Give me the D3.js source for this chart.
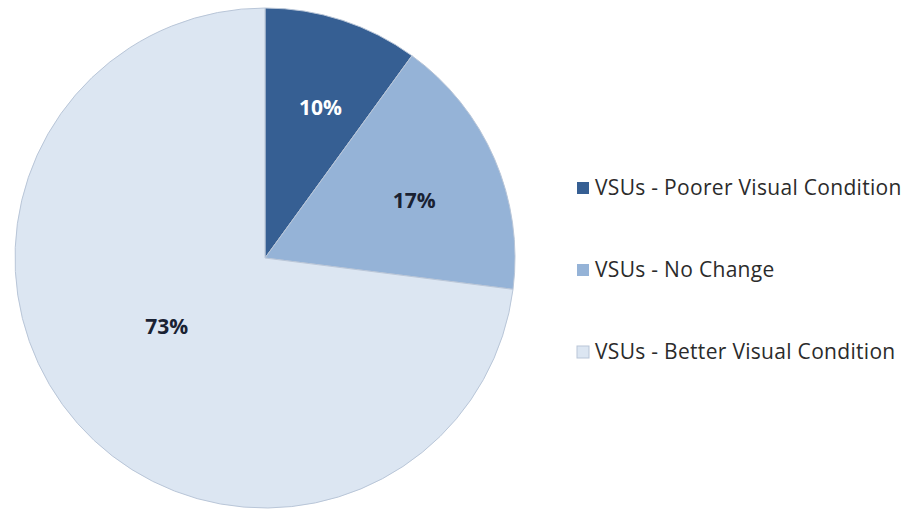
<!DOCTYPE html>
<html>
<head>
<meta charset="utf-8">
<script src="https://cdn.jsdelivr.net/npm/d3@7"></script>
<style>
    html, body { margin: 0; padding: 0; background: #fff; }
</style>
</head>
<body>
<div id="chart"></div>
<script>
const categories = [
    "VSUs - Poorer Visual Condition",
    "VSUs - No Change",
    "VSUs - Better Visual Condition"
];
const shares = [10, 17, 73];
const sliceColors = ["#365f93", "#95b3d7", "#dce6f2"];
const labelColors = ["#ffffff", "#1a2233", "#1a2233"];

function drawPie() {

    const width = 922;
    const height = 510;
    const cx = 265;
    const cy = 258;
    const radius = 250;

    const dataArray = categories.map((name, i) => ({ name: name, value: shares[i], i: i }));

    const svg = d3.select("#chart")
        .append("svg")
        .attr("width", width)
        .attr("height", height);

    const g = svg.append("g")
        .attr("transform", `translate(${cx},${cy})`);

    const pie = d3.pie()
        .sort(null)
        .value(d => d.value);

    const dataReady = pie(dataArray);

    const arc = d3.arc()
        .innerRadius(0)
        .outerRadius(radius);

    g.selectAll("path")
        .data(dataReady)
        .enter()
        .append("path")
        .attr("d", arc)
        .attr("fill", d => sliceColors[d.data.i])
        .attr("stroke", "#b9c6d8")
        .style("stroke-width", "1px");

    // label placement like Excel's best fit: the big slice label sits closer in
    const isBig = d => d.endAngle - d.startAngle > Math.PI;
    const labelRadius = d => (isBig(d) ? 120 : 160);
    const labelShift = d => (isBig(d) ? 0.11 : 0.04);

    g.selectAll("text")
        .data(dataReady)
        .enter()
        .append("text")
        .text(d => `${d.data.value}%`)
        .attr("transform", d => {
            const a = (d.startAngle + d.endAngle) / 2 + labelShift(d);
            const r = labelRadius(d);
            return `translate(${r * Math.sin(a)}, ${-r * Math.cos(a)})`;
        })
        .attr("dy", "0.35em")
        .style("text-anchor", "middle")
        .style("font-size", "21px")
        .style("font-weight", "bold")
        .style("fill", d => labelColors[d.data.i])
        .style("font-family", "'Open Sans', Arial, sans-serif");

    const legendY = d3.scalePoint()
        .domain(categories)
        .range([188, 352]);

    const legend = svg.append("g");

    const item = legend.selectAll("g")
        .data(dataArray)
        .enter()
        .append("g")
        .attr("transform", d => `translate(577, ${legendY(d.name)})`);

    item.append("rect")
        .attr("x", 0)
        .attr("y", -6)
        .attr("width", 12)
        .attr("height", 12)
        .attr("fill", d => sliceColors[d.i])
        .attr("stroke", d => d.i === 2 ? "#b9c6d8" : "none");

    item.append("text")
        .attr("x", 18)
        .attr("dy", "0.35em")
        .text(d => d.name)
        .style("font-size", "21px")
        .style("letter-spacing", "0.3px")
        .style("fill", "#2b2b2b")
        .style("font-family", "'Open Sans', Arial, sans-serif");
}

drawPie();
</script>
</body>
</html>
